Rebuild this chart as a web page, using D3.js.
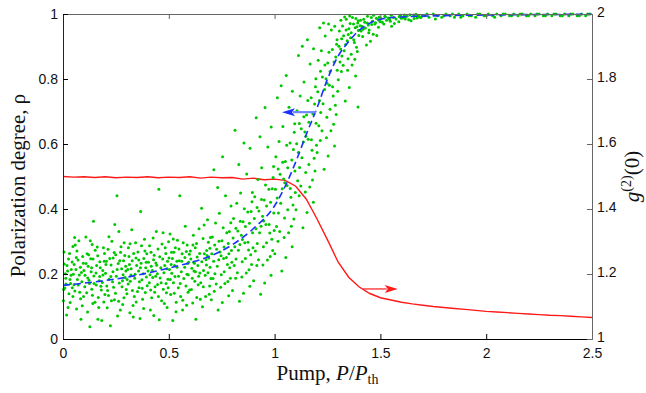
<!DOCTYPE html>
<html>
<head>
<meta charset="utf-8">
<script src="https://cdn.jsdelivr.net/npm/d3@7"></script>
<style>
body { margin: 0; background: #fff; }
.tick text { font-family: "Liberation Sans", Arial, sans-serif; font-size: 14px; fill: #111; }
.title { font-family: "Liberation Serif", "Times New Roman", serif; font-size: 21px; fill: #111; }
</style>
</head>
<body>
<div class="chart"></div>
<script>
var margin = { top: 14, right: 54, bottom: 54, left: 63 };
var width = 646 - margin.left - margin.right;
var height = 393 - margin.top - margin.bottom;

var xTicks = [0, 0.5, 1, 1.5, 2, 2.5];
var yTicks = [0, 0.2, 0.4, 0.6, 0.8, 1];
var y2Ticks = [1, 1.2, 1.4, 1.6, 1.8, 2];

var rhoPoints = [
[0.013,0.187],[0.071,0.243],[0.034,0.112],[0.089,0.176],[0.005,0.268],[0.056,0.148],[0.022,0.209],[0.097,0.131],[0.047,0.285],[0.064,0.092],[0.009,0.157],[0.082,0.221],[0.038,0.196],[0.017,0.074],[0.075,0.302],[0.052,0.167],[0.093,0.254],[0.028,0.139],[0.061,0.214],[0.043,0.237],[0.002,0.118],[0.085,0.061],[0.031,0.263],[0.068,0.183],[0.019,0.226],[0.079,0.144],[0.049,0.199],[0.099,0.211],[0.036,0.171],[0.058,0.289],
[0.006,0.231],[0.044,0.158],[0.077,0.197],[0.026,0.246],[0.091,0.102],[0.014,0.169],[0.066,0.271],[0.039,0.214],[0.083,0.124],[0.053,0.229],[0.011,0.201],[0.072,0.166],[0.024,0.097],[0.096,0.233],[0.047,0.131],[0.063,0.251],[0.033,0.183],[0.087,0.205],[0.003,0.152],[0.055,0.312],
[0.104,0.196],[0.167,0.128],[0.131,0.247],[0.188,0.211],[0.116,0.083],[0.152,0.273],[0.179,0.162],[0.123,0.181],[0.195,0.239],[0.141,0.109],[0.108,0.314],[0.173,0.192],[0.136,0.153],[0.159,0.226],[0.183,0.057],[0.119,0.224],[0.147,0.171],[0.191,0.281],[0.127,0.038],[0.164,0.256],[0.112,0.142],[0.156,0.203],[0.198,0.137],[0.138,0.291],[0.176,0.219],[0.144,0.362],[0.186,0.174],[0.121,0.259],[0.169,0.097],[0.133,0.207],
[0.109,0.232],[0.146,0.194],[0.181,0.151],[0.125,0.171],[0.162,0.283],[0.193,0.114],[0.114,0.262],[0.151,0.113],[0.174,0.238],[0.135,0.219],[0.189,0.197],[0.103,0.161],[0.157,0.166],[0.129,0.302],[0.171,0.179],[0.142,0.246],[0.196,0.263],[0.117,0.188],[0.165,0.061],[0.139,0.135],
[0.207,0.163],[0.261,0.232],[0.229,0.118],[0.284,0.198],[0.213,0.276],[0.248,0.141],[0.292,0.257],[0.236,0.207],[0.271,0.089],[0.218,0.184],[0.255,0.441],[0.299,0.152],[0.242,0.266],[0.224,0.041],[0.277,0.216],[0.203,0.229],[0.266,0.172],[0.231,0.301],[0.288,0.127],[0.252,0.193],[0.215,0.134],[0.274,0.284],[0.239,0.159],[0.296,0.224],[0.258,0.071],[0.221,0.248],[0.281,0.179],[0.245,0.352],[0.209,0.096],[0.268,0.241],
[0.201,0.202],[0.249,0.259],[0.286,0.241],[0.227,0.228],[0.263,0.116],[0.217,0.315],[0.279,0.161],[0.234,0.176],[0.294,0.189],[0.256,0.214],[0.211,0.149],[0.272,0.267],[0.243,0.121],[0.289,0.296],[0.226,0.192],[0.264,0.331],[0.205,0.239],[0.282,0.106],[0.237,0.249],[0.297,0.209],
[0.306,0.214],[0.352,0.146],[0.387,0.271],[0.318,0.178],[0.369,0.233],[0.331,0.103],[0.394,0.191],[0.343,0.296],[0.312,0.254],[0.376,0.122],[0.357,0.209],[0.325,0.336],[0.398,0.164],[0.339,0.187],[0.364,0.063],[0.302,0.139],[0.382,0.248],[0.348,0.226],[0.316,0.081],[0.373,0.182],[0.334,0.263],[0.391,0.219],[0.359,0.158],[0.321,0.197],[0.385,0.307],[0.346,0.114],[0.309,0.281],[0.367,0.392],[0.328,0.149],[0.379,0.201],
[0.303,0.183],[0.345,0.249],[0.389,0.143],[0.314,0.229],[0.361,0.176],[0.327,0.241],[0.396,0.262],[0.337,0.131],[0.371,0.287],[0.308,0.169],[0.354,0.268],[0.381,0.094],[0.322,0.216],[0.366,0.219],[0.341,0.199],[0.393,0.236],[0.317,0.293],[0.374,0.156],[0.332,0.068],[0.358,0.243],
[0.404,0.236],[0.447,0.168],[0.483,0.281],[0.419,0.127],[0.462,0.219],[0.431,0.258],[0.496,0.184],[0.413,0.089],[0.471,0.246],[0.438,0.193],[0.489,0.142],[0.426,0.311],[0.455,0.059],[0.408,0.173],[0.477,0.204],[0.443,0.227],[0.499,0.299],[0.422,0.211],[0.466,0.118],[0.435,0.161],[0.453,0.461],[0.481,0.226],[0.416,0.267],[0.459,0.188],[0.492,0.097],[0.428,0.244],[0.474,0.153],[0.441,0.331],[0.411,0.198],[0.486,0.263],
[0.402,0.209],[0.449,0.277],[0.487,0.171],[0.417,0.224],[0.468,0.292],[0.433,0.144],[0.494,0.239],[0.424,0.189],[0.457,0.253],[0.479,0.109],[0.409,0.287],[0.446,0.201],[0.491,0.216],[0.429,0.072],[0.464,0.173],[0.414,0.151],[0.473,0.327],[0.439,0.234],[0.497,0.158],[0.451,0.131],
[0.503,0.214],[0.548,0.277],[0.581,0.163],[0.517,0.248],[0.566,0.119],[0.529,0.192],[0.594,0.236],[0.541,0.304],[0.509,0.137],[0.575,0.221],[0.534,0.084],[0.587,0.289],[0.522,0.173],[0.559,0.207],[0.598,0.151],[0.513,0.267],[0.552,0.441],[0.571,0.186],[0.538,0.239],[0.506,0.323],[0.584,0.104],[0.527,0.226],[0.563,0.262],[0.545,0.158],[0.592,0.198],[0.519,0.057],[0.578,0.347],[0.531,0.281],[0.556,0.131],[0.589,0.232],
[0.501,0.249],[0.546,0.193],[0.583,0.269],[0.514,0.202],[0.561,0.239],[0.526,0.141],[0.597,0.261],[0.539,0.221],[0.568,0.296],[0.507,0.183],[0.554,0.171],[0.591,0.144],[0.521,0.308],[0.576,0.251],[0.535,0.113],[0.511,0.229],[0.586,0.199],[0.549,0.241],[0.524,0.267],[0.565,0.089],
[0.604,0.246],[0.651,0.173],[0.687,0.298],[0.619,0.209],[0.668,0.262],[0.632,0.128],[0.695,0.221],[0.643,0.339],[0.611,0.187],[0.676,0.244],[0.625,0.281],[0.659,0.099],[0.699,0.186],[0.637,0.226],[0.683,0.367],[0.607,0.152],[0.664,0.211],[0.646,0.263],[0.691,0.138],[0.616,0.319],[0.672,0.196],[0.628,0.061],[0.655,0.402],[0.681,0.257],[0.621,0.233],[0.694,0.279],[0.639,0.167],[0.662,0.309],[0.613,0.111],[0.678,0.228],
[0.602,0.271],[0.647,0.203],[0.689,0.249],[0.618,0.236],[0.663,0.161],[0.631,0.294],[0.697,0.312],[0.641,0.193],[0.674,0.131],[0.609,0.218],[0.656,0.238],[0.685,0.204],[0.623,0.178],[0.667,0.351],[0.634,0.252],[0.693,0.163],[0.614,0.289],[0.679,0.272],[0.649,0.122],[0.626,0.207],
[0.703,0.262],[0.748,0.198],[0.786,0.331],[0.715,0.147],[0.761,0.283],[0.729,0.224],[0.794,0.409],[0.737,0.301],[0.709,0.186],[0.772,0.251],[0.753,0.112],[0.721,0.357],[0.798,0.236],[0.742,0.268],[0.765,0.171],[0.712,0.239],[0.781,0.294],[0.733,0.089],[0.757,0.342],[0.791,0.187],[0.726,0.276],[0.768,0.441],[0.706,0.314],[0.745,0.159],[0.777,0.229],[0.718,0.201],[0.783,0.133],[0.739,0.387],[0.759,0.248],[0.796,0.272],[0.724,0.169],[0.751,0.302],[0.788,0.219],[0.713,0.521],[0.774,0.327],[0.736,0.244],[0.762,0.207],[0.701,0.121],[0.793,0.358],[0.747,0.256],[0.731,0.466],[0.779,0.177],[0.754,0.561],[0.717,0.289],[0.784,0.262],
[0.804,0.311],[0.847,0.238],[0.889,0.392],[0.816,0.187],[0.862,0.346],[0.829,0.273],[0.895,0.451],[0.838,0.362],[0.809,0.226],[0.874,0.298],[0.853,0.141],[0.821,0.418],[0.898,0.281],[0.843,0.319],[0.866,0.203],[0.812,0.284],[0.881,0.356],[0.834,0.116],[0.857,0.401],[0.891,0.229],[0.826,0.332],[0.868,0.508],[0.806,0.371],[0.845,0.191],[0.877,0.274],[0.818,0.246],[0.883,0.162],[0.839,0.449],[0.859,0.296],[0.896,0.327],[0.824,0.204],[0.851,0.361],[0.887,0.259],[0.813,0.642],[0.873,0.391],[0.836,0.291],[0.862,0.248],[0.801,0.149],[0.893,0.422],[0.848,0.306],[0.831,0.537],[0.879,0.213],[0.855,0.603],[0.817,0.341],[0.884,0.587],
[0.904,0.371],[0.947,0.284],[0.989,0.462],[0.916,0.226],[0.962,0.409],[0.929,0.327],[0.995,0.531],[0.938,0.429],[0.909,0.271],[0.974,0.352],[0.953,0.172],[0.921,0.491],[0.998,0.334],[0.943,0.378],[0.966,0.243],[0.912,0.339],[0.981,0.421],[0.934,0.138],[0.957,0.474],[0.991,0.272],[0.926,0.394],[0.968,0.591],[0.906,0.438],[0.945,0.228],[0.977,0.326],[0.918,0.294],[0.983,0.196],[0.939,0.527],[0.959,0.352],[0.996,0.388],[0.924,0.244],[0.951,0.428],[0.987,0.307],[0.913,0.681],[0.973,0.461],[0.936,0.347],[0.962,0.296],[0.901,0.179],[0.993,0.497],[0.948,0.363],[0.931,0.622],[0.979,0.254],[0.955,0.712],[0.917,0.405],[0.984,0.652],
[1.004,0.461],[1.047,0.372],[1.089,0.583],[1.016,0.301],[1.062,0.527],[1.029,0.418],[1.095,0.662],[1.038,0.544],[1.009,0.346],[1.074,0.463],[1.053,0.251],[1.021,0.608],[1.098,0.451],[1.043,0.492],[1.066,0.327],[1.012,0.434],[1.081,0.551],[1.034,0.209],[1.057,0.596],[1.091,0.369],[1.026,0.507],[1.068,0.713],[1.006,0.561],[1.045,0.312],[1.077,0.436],[1.018,0.388],[1.083,0.284],[1.039,0.654],[1.059,0.472],[1.096,0.517],[1.024,0.331],[1.051,0.546],[1.087,0.412],[1.013,0.742],[1.073,0.603],[1.036,0.462],[1.062,0.398],[1.001,0.262],[1.093,0.636],[1.048,0.481],[1.031,0.779],[1.079,0.347],[1.055,0.811],[1.017,0.523],[1.084,0.762],
[1.104,0.601],[1.147,0.512],[1.189,0.723],[1.116,0.441],[1.162,0.667],[1.129,0.558],[1.195,0.801],[1.138,0.684],[1.109,0.487],[1.174,0.613],[1.153,0.389],[1.121,0.748],[1.198,0.596],[1.143,0.637],[1.166,0.468],[1.112,0.574],[1.181,0.692],[1.134,0.342],[1.157,0.734],[1.191,0.517],[1.126,0.647],[1.168,0.846],[1.106,0.702],[1.145,0.452],[1.177,0.581],[1.118,0.528],[1.183,0.421],[1.139,0.791],[1.159,0.615],[1.196,0.664],[1.124,0.471],[1.151,0.689],[1.187,0.556],[1.113,0.872],[1.173,0.742],[1.136,0.606],[1.162,0.537],[1.101,0.398],[1.193,0.776],[1.148,0.624],[1.131,0.901],[1.179,0.489],[1.155,0.921],[1.117,0.663],[1.184,0.893],
[1.204,0.761],[1.247,0.682],[1.289,0.868],[1.216,0.611],[1.262,0.823],[1.229,0.724],[1.295,0.921],[1.238,0.843],[1.209,0.656],[1.274,0.776],[1.253,0.563],[1.221,0.887],[1.298,0.762],[1.243,0.801],[1.266,0.641],[1.212,0.734],[1.281,0.852],[1.234,0.522],[1.257,0.882],[1.291,0.691],[1.226,0.806],[1.268,0.951],[1.206,0.858],[1.245,0.619],[1.277,0.748],[1.218,0.697],[1.283,0.594],[1.239,0.932],[1.259,0.781],[1.296,0.827],[1.224,0.641],[1.251,0.849],[1.287,0.719],[1.213,0.958],[1.273,0.891],[1.236,0.768],[1.262,0.707],[1.201,0.574],[1.293,0.907],[1.248,0.787],[1.231,0.972],[1.279,0.661],[1.255,0.969],[1.217,0.824],[1.284,0.962],
[1.304,0.901],[1.347,0.862],[1.389,0.961],[1.316,0.823],[1.362,0.942],[1.329,0.887],[1.395,0.979],[1.338,0.951],[1.309,0.852],[1.374,0.921],[1.353,0.774],[1.321,0.963],[1.398,0.934],[1.343,0.918],[1.366,0.843],[1.312,0.892],[1.381,0.958],[1.334,0.732],[1.357,0.971],[1.391,0.885],[1.326,0.933],[1.368,0.989],[1.306,0.948],[1.345,0.827],[1.377,0.912],[1.318,0.871],[1.383,0.809],[1.339,0.984],[1.359,0.927],[1.396,0.949],[1.324,0.842],[1.351,0.955],[1.387,0.898],[1.313,0.981],[1.373,0.969],[1.336,0.906],[1.362,0.876],[1.301,0.798],[1.393,0.972],[1.348,0.937],[1.331,0.991],[1.379,0.861],[1.355,0.994],[1.317,0.924],[1.384,0.986],[1.394,0.714],
[1.404,0.964],[1.447,0.951],[1.489,0.983],[1.416,0.931],[1.462,0.978],[1.429,0.957],[1.495,0.991],[1.438,0.972],[1.409,0.948],[1.474,0.969],[1.453,0.916],[1.421,0.984],[1.498,0.976],[1.443,0.966],[1.466,0.938],[1.412,0.962],[1.481,0.987],[1.434,0.905],[1.457,0.989],[1.491,0.959],[1.426,0.975],[1.468,0.996],[1.406,0.981],[1.445,0.942],[1.477,0.973],[1.418,0.953],[1.483,0.934],[1.439,0.993],[1.459,0.968],[1.496,0.981],
[1.503,0.986],[1.547,0.978],[1.589,0.992],[1.516,0.969],[1.562,0.989],[1.529,0.981],[1.595,0.996],[1.538,0.988],[1.509,0.975],[1.574,0.985],[1.553,0.962],[1.521,0.993],[1.598,0.987],[1.543,0.983],[1.566,0.971],[1.612,0.991],[1.681,0.995],[1.634,0.982],[1.657,0.997],[1.691,0.989],[1.626,0.993],[1.668,0.999],[1.606,0.988],[1.645,0.979],[1.677,0.994],[1.618,0.985],[1.683,0.991],[1.639,0.998],[1.659,0.986],[1.696,0.993],[1.524,0.991],[1.551,0.996],[1.587,0.976],[1.613,0.997],[1.673,0.988],
[1.71,0.995],[1.73,0.99],[1.75,1.0],[1.77,0.995],[1.79,0.99],[1.81,1.0],[1.83,0.995],[1.85,0.99],[1.87,1.0],[1.89,0.995],[1.91,1.0],[1.93,0.995],[1.95,0.99],[1.97,1.0],[1.99,0.995],[2.01,1.0],[2.03,0.995],[2.05,1.0],[2.07,0.995],[2.09,1.0],[2.11,0.995],[2.13,1.0],[2.15,0.995],[2.17,1.0],[2.19,0.995],[2.21,1.0],[2.23,0.995],[2.25,1.0],[2.27,0.995],[2.29,1.0],[2.31,0.995],[2.33,1.0],[2.35,0.995],[2.37,1.0],[2.39,0.995],[2.41,1.0],[2.43,0.995],[2.45,1.0],[2.47,0.995],[2.49,1.0],
[1.72,1.0],[1.76,0.985],[1.80,0.995],[1.84,1.0],[1.88,0.99],[1.92,0.995],[1.96,1.0],[2.0,0.995],[2.04,0.99],[2.08,1.0],[2.12,0.995],[2.16,1.0],[2.2,0.995],[2.24,1.0],[2.28,0.995],[2.32,1.0],[2.36,0.995],[2.4,1.0],[2.44,0.995],[2.48,1.0]
];

// mean polarization (blue dashed)
var rhoMeanX = [0, 0.1, 0.2, 0.3, 0.4, 0.5, 0.6, 0.7, 0.8, 0.9, 1.0, 1.05, 1.1, 1.15, 1.2, 1.25, 1.3, 1.35, 1.4, 1.45, 1.5, 1.6, 1.8, 2.0, 2.5];
var rhoMeanY = [0.165, 0.172, 0.18, 0.19, 0.203, 0.218, 0.235, 0.256, 0.29, 0.34, 0.41, 0.47, 0.545, 0.63, 0.71, 0.8, 0.87, 0.915, 0.95, 0.972, 0.984, 0.991, 0.995, 0.997, 0.999];

// g2(0) (red line, right axis)
var g2X = [0, 0.05, 0.1, 0.15, 0.2, 0.25, 0.3, 0.35, 0.4, 0.45, 0.5, 0.55, 0.6, 0.65, 0.7, 0.75, 0.8, 0.85, 0.9, 0.95, 1.0, 1.05, 1.1, 1.15, 1.2, 1.25, 1.3, 1.35, 1.4, 1.45, 1.5, 1.55, 1.6, 1.65, 1.7, 1.75, 1.8, 1.85, 1.9, 1.95, 2.0, 2.05, 2.1, 2.15, 2.2, 2.25, 2.3, 2.35, 2.4, 2.45, 2.5];
var g2Y = [1.50, 1.498, 1.499, 1.497, 1.499, 1.496, 1.498, 1.497, 1.499, 1.496, 1.498, 1.497, 1.499, 1.495, 1.498, 1.496, 1.497, 1.492, 1.495, 1.49, 1.492, 1.488, 1.47, 1.43, 1.37, 1.305, 1.237, 1.19, 1.16, 1.14, 1.127, 1.12, 1.113, 1.108, 1.104, 1.1, 1.097, 1.094, 1.091, 1.088, 1.085, 1.083, 1.081, 1.079, 1.077, 1.075, 1.073, 1.072, 1.07, 1.068, 1.066];

// arrows: [x start, x end, y]
var blueArrow = [1.196, 1.035, 0.698];
var redArrow = [1.418, 1.582, 1.154];

var svg = d3.select('.chart')
    .append('svg')
    .attr('width', 646)
    .attr('height', 393)
    .append('g')
    .attr('transform', `translate(${margin.left},${margin.top})`);

var xScale = d3.scaleLinear().domain([0, 2.5]).range([0, width]);
var yScale = d3.scaleLinear().domain([0, 1]).range([height, 0]);
var y2Scale = d3.scaleLinear().domain([1, 2]).range([height, 0]);

var fmt = d3.format('~g');

// red g2 line
svg.append('path')
    .datum(g2X.map((d, i) => [d, g2Y[i]]))
    .attr('fill', 'none')
    .attr('stroke', '#ff1a1a')
    .attr('stroke-width', 1.4)
    .attr('d', d3.line().x(d => xScale(d[0])).y(d => y2Scale(d[1])));

// green points
svg.append('g')
    .selectAll('circle')
    .data(rhoPoints)
    .join('circle')
    .attr('cx', d => xScale(d[0]))
    .attr('cy', d => yScale(d[1]))
    .attr('r', 1.5)
    .attr('fill', '#00c800');

// blue dashed mean
svg.append('path')
    .datum(rhoMeanX.map((d, i) => [d, rhoMeanY[i]]))
    .attr('fill', 'none')
    .attr('stroke', '#1a33ff')
    .attr('stroke-width', 1.6)
    .attr('stroke-dasharray', '7,4')
    .attr('d', d3.line().curve(d3.curveMonotoneX).x(d => xScale(d[0])).y(d => yScale(d[1])));

function arrow(a, ys, lineColor, headColor, lw) {
  var x0 = xScale(a[0]), x1 = xScale(a[1]), y = ys(a[2]);
  var dir = x1 > x0 ? 1 : -1;
  var hl = 13, hw = 4;
  svg.append('line')
      .attr('x1', x0).attr('x2', x1 - dir * hl + dir * 2)
      .attr('y1', y).attr('y2', y)
      .attr('stroke', lineColor).attr('stroke-width', lw);
  svg.append('path')
      .attr('d', `M${x1},${y}L${x1 - dir * hl},${y - hw}L${x1 - dir * (hl - 3)},${y}L${x1 - dir * hl},${y + hw}Z`)
      .attr('fill', headColor);
}
arrow(blueArrow, yScale, '#6f86ff', '#1a33ff', 2.2);
arrow(redArrow, y2Scale, '#ff1a1a', '#ff1a1a', 1.2);

// axes with inward ticks
svg.append('g')
    .attr('transform', `translate(0,${height})`)
    .call(d3.axisBottom(xScale).tickValues(xTicks).tickFormat(fmt).tickSizeInner(-5).tickSizeOuter(0).tickPadding(9))
    .call(g => g.select('.domain').attr('stroke', '#000'));
svg.append('g')
    .call(d3.axisTop(xScale).tickValues(xTicks).tickFormat('').tickSizeInner(-5).tickSizeOuter(0))
    .call(g => g.selectAll('.domain, line').attr('stroke', '#666'));
svg.append('g')
    .call(d3.axisLeft(yScale).tickValues(yTicks).tickFormat(fmt).tickSizeInner(-5).tickSizeOuter(0).tickPadding(5))
    .call(g => g.select('.domain').attr('stroke', '#222'));
svg.append('g')
    .attr('transform', `translate(${width},0)`)
    .call(d3.axisRight(y2Scale).tickValues(y2Ticks).tickFormat(fmt).tickSizeInner(-5).tickSizeOuter(0).tickPadding(5))
    .call(g => g.selectAll('.domain, line').attr('stroke', '#666'))
    .call(g => g.selectAll('text').attr('dy', '0.2em'));

// titles
svg.append('text')
    .attr('class', 'title')
    .attr('transform', `translate(${-38},${height / 2 + 9}) rotate(-90)`)
    .attr('text-anchor', 'middle')
    .text('Polarization degree, ρ');

var xt = svg.append('text')
    .attr('class', 'title')
    .attr('x', width / 2)
    .attr('y', height + 41)
    .attr('text-anchor', 'middle');
xt.append('tspan').text('Pump, ');
xt.append('tspan').attr('font-style', 'italic').text('P');
xt.append('tspan').text('/');
xt.append('tspan').attr('font-style', 'italic').text('P');
xt.append('tspan').attr('font-size', '14px').attr('dy', 4).text('th');

var yt = svg.append('text')
    .attr('class', 'title')
    .attr('font-size', '20px')
    .attr('transform', `translate(${width + 47},${height / 2}) rotate(-90)`)
    .attr('text-anchor', 'middle');
yt.append('tspan').attr('font-style', 'italic').text('g');
yt.append('tspan').attr('font-size', '14px').attr('dy', -8).text('(2)');
yt.append('tspan').attr('dy', 8).text('(0)');
</script>
</body>
</html>
